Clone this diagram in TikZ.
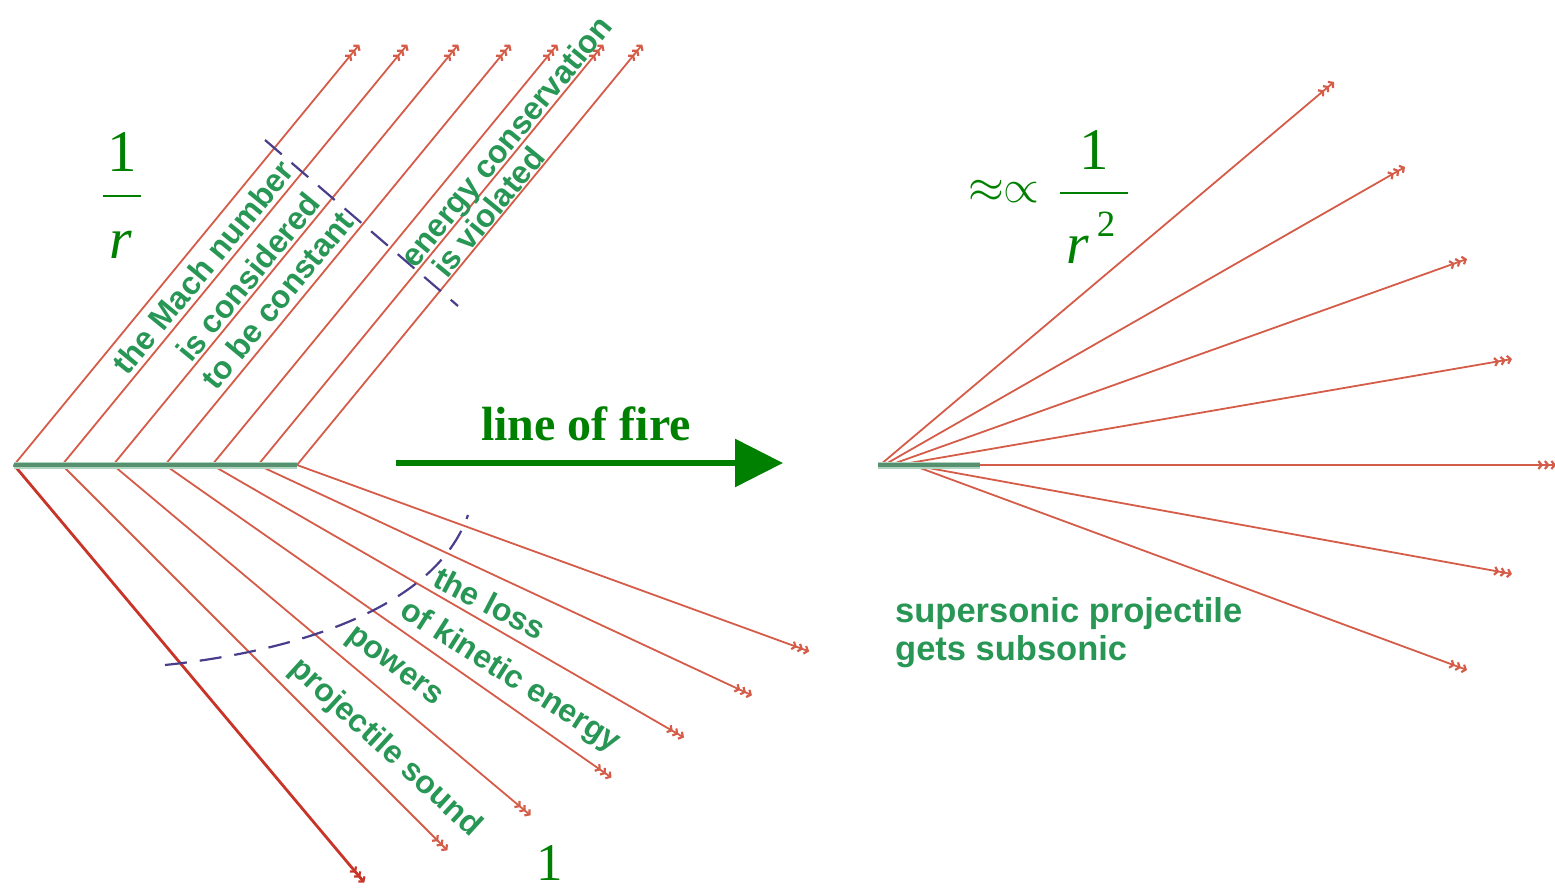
\documentclass[tikz,border=0pt]{standalone}
\usepackage{fix-cm}
\usepackage{fontspec}
\setmainfont{Liberation Serif}
\newfontfamily\lblfont{Liberation Sans}
\usetikzlibrary{arrows.meta,calc}
\definecolor{raycol}{RGB}{212,92,72}
\definecolor{raydark}{RGB}{200,52,40}
\definecolor{txtgreen}{RGB}{40,150,85}
\definecolor{mathgreen}{RGB}{0,128,0}
\definecolor{dashcol}{RGB}{72,62,140}
\definecolor{basegreen}{RGB}{85,145,110}
\definecolor{baselight}{RGB}{175,212,192}
\begin{document}
\begin{tikzpicture}[x=1pt,y=-1pt,
  tips/.style={-{Straight Barb[length=3.2pt,width=8pt,line width=2.2pt,sep=0.8pt]Straight Barb[length=3.2pt,width=8pt,line width=2.2pt,sep=0.8pt]Straight Barb[length=3.2pt,width=8pt,line width=2.2pt]}},
  ray/.style={draw=raycol,line width=1.8pt,tips},
  raythick/.style={draw=raydark,line width=2.8pt,tips},
  lbl/.style={text=txtgreen,font=\lblfont\bfseries\fontsize{32}{36}\selectfont,inner sep=0pt},
  rlbl/.style={text=txtgreen,font=\lblfont\bfseries\fontsize{34.5}{38}\selectfont,inner sep=0pt,anchor=base west},
  mathtxt/.style={text=mathgreen,inner sep=0pt,anchor=base},
  fracbar/.style={draw=mathgreen,line width=2.6pt},
  wave/.style={draw=dashcol,line width=2.2pt,dash pattern=on 22pt off 13pt},
  baseline light/.style={draw=baselight,line width=7pt},
  baseline dark/.style={draw=basegreen,line width=4pt}
]
\useasboundingbox (0,0) rectangle (1555,890);

% ---------- left: origins on the line of fire ----------
\foreach \n/\x in {1/14,2/62,3/113,4/165,5/212,6/258,7/297}{
  \coordinate (o\n) at (\x,465);
  \coordinate (u\n) at ($(o\n)+(-50.6:544)$);
}
\foreach \n/\a in {1/50,2/45,3/40,4/35,5/30,6/25,7/20}{
  \coordinate (l\n) at ($(o\n)+(\a:545)$);
}
\foreach \n in {1,...,7}{ \draw[ray] (o\n) -- (u\n); }
\draw[raythick] (o1) -- (l1);
\foreach \n in {2,...,7}{ \draw[ray] (o\n) -- (l\n); }
\draw[baseline light] (o1) -- (o7);
\draw[baseline dark] (o1) -- (o7);

% dashed fronts
\coordinate (d1) at (265,140);
\coordinate (d2) at (458,306);
\draw[wave] (d1) -- (d2);
\coordinate (c1) at (165,665);
\coordinate (c2) at (290,652);
\coordinate (c3) at (435,610);
\coordinate (c4) at (468,515);
\draw[wave] (c1) .. controls (c2) and (c3) .. (c4);

% upper labels
\node[lbl,rotate=50.6] (mach) at (203,267) {the Mach number};
\node[lbl,rotate=50.6] (consid) at (248,277) {is considered};
\node[lbl,rotate=50.6] (const) at (277,300) {to be constant};
\node[lbl,rotate=50.6] (energy) at (508,143) {energy conservation};
\node[lbl,rotate=50.6] (viol) at (488,212) {is violated};

% lower labels
\node[lbl,rotate=-27.5] (loss) at (490,603) {the loss};
\node[lbl,rotate=-32.5] (kin) at (510,677) {of kinetic energy};
\node[lbl,rotate=-37.5] (powers) at (393,668) {powers};
\node[lbl,rotate=-42.5] (psound) at (385,748) {projectile sound};

% 1/r
\node[mathtxt,font=\fontsize{59}{60}\selectfont] (one1) at (122,172) {1};
\coordinate (b1a) at (103,196);
\coordinate (b1b) at (141,196);
\draw[fracbar] (b1a) -- (b1b);
\node[mathtxt,font=\itshape\fontsize{58}{60}\selectfont] (r1) at (121,259) {r};

% bottom 1
\node[mathtxt,font=\fontsize{53}{55}\selectfont] (onebot) at (550,880) {1};

% line of fire
\node[mathtxt,font=\bfseries\fontsize{48}{50}\selectfont] (lof) at (586,440) {line of fire};
\coordinate (fa) at (396,463);
\coordinate (fb) at (783,463);
\draw[draw=mathgreen,fill=mathgreen,line width=6pt,-{Triangle[length=48pt,width=47pt]}] (fa) -- (fb);

% ---------- right fan ----------
\coordinate (p1) at (880,465);
\coordinate (p2) at (884,465);
\coordinate (p3) at (890,465);
\coordinate (p4) at (898,465);
\coordinate (p5) at (905,465);
\coordinate (p6) at (912,465);
\coordinate (p7) at (912,465);
\coordinate (e1) at (1334,82);
\coordinate (e2) at (1405,167);
\coordinate (e3) at (1467,259);
\coordinate (e4) at (1512,359);
\coordinate (e5) at (1556,465);
\coordinate (e6) at (1512,574);
\coordinate (e7) at (1467,670);
\foreach \n in {1,...,7}{ \draw[ray] (p\n) -- (e\n); }
\coordinate (q0) at (878,465);
\coordinate (q1) at (980,465);
\draw[baseline light] (q0) -- (q1);
\draw[baseline dark] (q0) -- (q1);

\node[rlbl] (sup1) at (895,622) {supersonic projectile};
\node[rlbl] (sup2) at (895,660) {gets subsonic};

% approx prop 1/r^2
\node[text=mathgreen,inner sep=0pt,font=\fontsize{46}{48}\selectfont] (approx) at (1004,191) {$\approx\propto$};
\node[mathtxt,font=\fontsize{59}{60}\selectfont] (one2) at (1094,170) {1};
\coordinate (b2a) at (1060,193);
\coordinate (b2b) at (1128,193);
\draw[fracbar] (b2a) -- (b2b);
\node[mathtxt,font=\itshape\fontsize{58}{60}\selectfont] (r2) at (1078,264) {r};
\node[mathtxt,font=\fontsize{37}{40}\selectfont] (sq) at (1106,237) {2};
\end{tikzpicture}
\end{document}
